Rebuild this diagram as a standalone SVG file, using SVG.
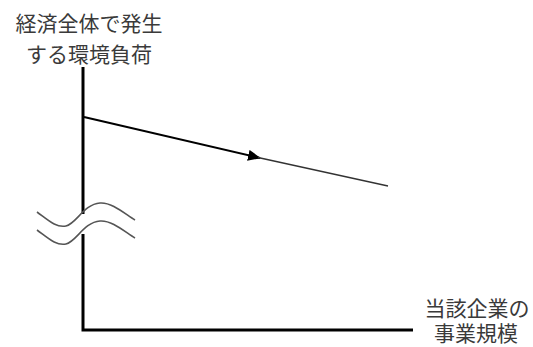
<svg xmlns="http://www.w3.org/2000/svg" width="533" height="347" viewBox="0 0 533 347">
<style>
.lbl{font-family:"Liberation Serif","Noto Sans CJK JP",serif;font-size:21px;fill:#3a3a3a;text-anchor:middle}
.axis{stroke:#000;stroke-width:3;fill:none}
.wave{stroke:#555;stroke-width:1.6;fill:none}
</style>
<defs>
<marker id="ah" markerWidth="13" markerHeight="11" refX="12" refY="5.5" orient="auto" markerUnits="userSpaceOnUse">
<path d="M0,0 L13,5.5 L0,11 Z" fill="#000"/>
</marker>
</defs>
<g id="y-label">
<text class="lbl" x="89" y="31">経済全体で発生</text>
<text class="lbl" x="89" y="62">する環境負荷</text>
</g>
<g id="x-label">
<text class="lbl" x="477" y="316">当該企業の</text>
<text class="lbl" x="476" y="341">事業規模</text>
</g>
<g id="axes">
<path class="axis" d="M83,67 V214"/>
<path class="axis" d="M83,234 V330 H413"/>
</g>
<g id="break">
<path class="wave" d="M37,212 C48,220 56,228 66,226 C76,224 84,204 100,203 C112,202 125,214 135,220"/>
<path class="wave" d="M37,230 C48,238 56,246 66,244 C76,242 84,222 100,221 C112,220 125,232 135,238"/>
</g>
<g id="connectors">
<line x1="84" y1="117" x2="260" y2="158" stroke="#000" stroke-width="2" marker-end="url(#ah)"/>
<line x1="258" y1="157.5" x2="388" y2="186" stroke="#333" stroke-width="1.3"/>
</g>
</svg>
